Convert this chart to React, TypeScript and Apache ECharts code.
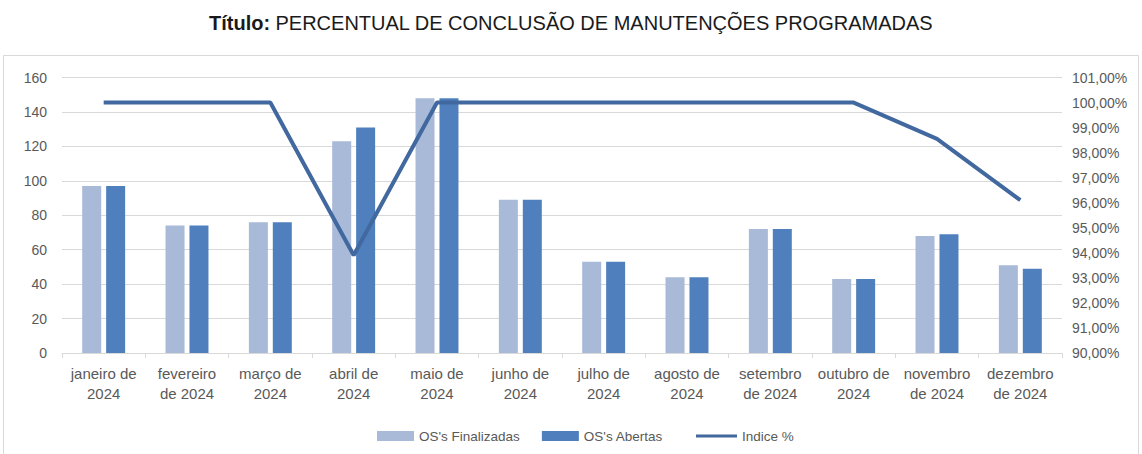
import React, { useEffect, useRef } from "react";
import * as echarts from "echarts";

const categories = [
  "janeiro de\n2024", "fevereiro\nde 2024", "março de\n2024", "abril de\n2024",
  "maio de\n2024", "junho de\n2024", "julho de\n2024", "agosto de\n2024",
  "setembro\nde 2024", "outubro de\n2024", "novembro\nde 2024", "dezembro\nde 2024",
];
const finalizadas = [97, 74, 76, 123, 148, 89, 53, 44, 72, 43, 68, 51];
const abertas = [97, 74, 76, 131, 148, 89, 53, 44, 72, 43, 69, 49];
const indice = [100, 100, 100, 93.9, 100, 100, 100, 100, 100, 100, 98.55, 96.1];

const FONT = "'Liberation Sans', Arial, sans-serif";

export default function App() {
  const ref = useRef<HTMLDivElement>(null);
  useEffect(() => {
    const chart = echarts.init(ref.current!, null, { renderer: "svg" });
    chart.setOption({
      animation: false,
      textStyle: { fontFamily: FONT },
      title: {
        text: "{b|Título:} {r|PERCENTUAL DE CONCLUSÃO DE MANUTENÇÕES PROGRAMADAS}",
        left: "center",
        top: 8,
        textStyle: {
          rich: {
            b: { fontFamily: FONT, fontSize: 20, fontWeight: "bold", color: "#1a1a1a" },
            r: { fontFamily: FONT, fontSize: 20, fontWeight: "normal", color: "#1a1a1a" },
          },
        },
      },
      graphic: [
        {
          type: "rect",
          shape: { x: 3.5, y: 55.5, width: 1135, height: 410 },
          style: { fill: "none", stroke: "#d9d9d9", lineWidth: 1 },
          silent: true,
        },
      ],
      legend: [
        {
          top: 424,
          left: 372,
          itemGap: 22,
          itemWidth: 37,
          itemHeight: 10,
          textStyle: { fontFamily: FONT, fontSize: 13.5, color: "#595959" },
          data: [
            { name: "OS's Finalizadas", icon: "rect" },
            { name: "OS's Abertas", icon: "rect" },
          ],
        },
        {
          top: 424,
          left: 691,
          itemWidth: 41,
          itemHeight: 3,
          textStyle: { fontFamily: FONT, fontSize: 13.5, color: "#595959" },
          data: [{ name: "Indice %", icon: "rect" }],
        },
      ],
      grid: { left: 62, right: 80, top: 77.5, bottom: 101, containLabel: false },
      xAxis: {
        type: "category",
        data: categories,
        boundaryGap: true,
        axisLine: { lineStyle: { color: "#d9d9d9" } },
        axisTick: { show: true, length: 5, lineStyle: { color: "#d9d9d9" } },
        axisLabel: {
          interval: 0,
          color: "#595959",
          fontSize: 15,
          lineHeight: 20,
          margin: 10,
          fontFamily: FONT,
        },
      },
      yAxis: [
        {
          type: "value",
          min: 0,
          max: 160,
          interval: 20,
          axisLine: { show: false },
          axisTick: { show: false },
          splitLine: { lineStyle: { color: "#d9d9d9" } },
          axisLabel: { color: "#595959", fontSize: 14, margin: 15, fontFamily: FONT },
        },
        {
          type: "value",
          min: 90,
          max: 101,
          interval: 1,
          position: "right",
          axisLine: { show: false },
          axisTick: { show: false },
          splitLine: { show: false },
          axisLabel: {
            color: "#595959",
            fontSize: 14,
            margin: 10,
            fontFamily: FONT,
            formatter: (v: number) => v.toFixed(2).replace(".", ",") + "%",
          },
        },
      ],
      series: [
        {
          name: "OS's Finalizadas",
          type: "bar",
          data: finalizadas,
          barWidth: 19,
          barGap: "26%",
          itemStyle: { color: "#A9B9D8" },
        },
        {
          name: "OS's Abertas",
          type: "bar",
          data: abertas,
          barWidth: 19,
          barGap: "26%",
          itemStyle: { color: "#4F80BD" },
        },
        {
          name: "Indice %",
          type: "line",
          yAxisIndex: 1,
          data: indice,
          symbol: "none",
          lineStyle: { color: "#41699F", width: 4 },
          itemStyle: { color: "#41699F" },
        },
      ],
    });
    return () => chart.dispose();
  }, []);
  return (
    <div
      ref={ref}
      style={{ position: "fixed", left: 0, top: 0, width: 1142, height: 454, background: "#fff" }}
    />
  );
}
